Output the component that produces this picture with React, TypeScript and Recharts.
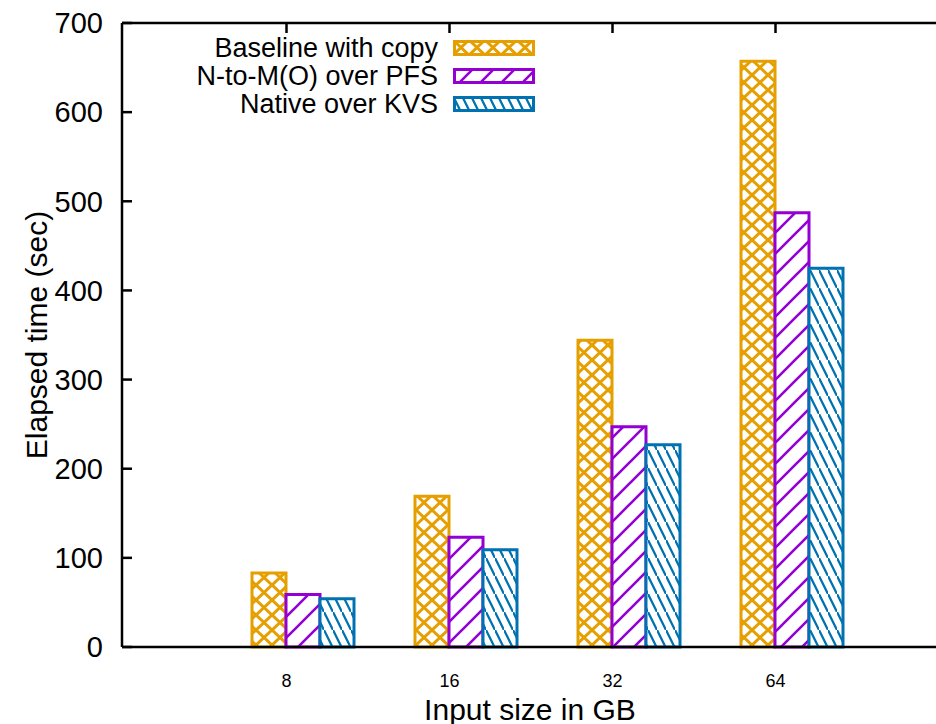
import React from 'react';
import { BarChart, Bar, XAxis, YAxis, Legend, Label } from 'recharts';

// input sizes (GB) and elapsed times (sec)
const sizes = ['8', '16', '32', '64'];
const baselineCopy = [83, 169, 344, 657];
const n2mOverPfs = [59, 123, 247, 487];
const nativeOverKvs = [54, 109, 227, 425];
const yTicks = [0, 100, 200, 300, 400, 500, 600, 700];

const data = sizes.map((size, i) => ({
    size,
    baseline: baselineCopy[i],
    pfs: n2mOverPfs[i],
    kvs: nativeOverKvs[i],
}));

const FONT = '"Liberation Sans", Arial, sans-serif';
const ORANGE = '#E69F00';
const PURPLE = '#9400D3';
const BLUE = '#0072B2';

// series look: outline colour + hatch pattern id
const seriesStyle: Record<string, { color: string; pattern: string; name: string }> = {
    baseline: { color: ORANGE, pattern: 'cross', name: 'Baseline with copy' },
    pfs: { color: PURPLE, pattern: 'slash', name: 'N-to-M(O) over PFS' },
    kvs: { color: BLUE, pattern: 'back', name: 'Native over KVS' },
};

// gnuplot-like fill patterns, prefix lets the legend have its own copies
const Patterns = ({ prefix }: { prefix: string }) => (
    <defs>
        <pattern id={`${prefix}cross`} width={16} height={15} patternUnits="userSpaceOnUse">
            <rect width={16} height={15} fill="#fff" />
            <path d="M0,0 L16,15 M16,0 L0,15" stroke={ORANGE} strokeWidth={3} />
        </pattern>
        <pattern id={`${prefix}slash`} width={21} height={21} patternUnits="userSpaceOnUse">
            <rect width={21} height={21} fill="#fff" />
            <path d="M0,21 L21,0 M-2,2 L2,-2 M19,23 L23,19" stroke={PURPLE} strokeWidth={2.6} />
        </pattern>
        <pattern id={`${prefix}back`} width={9} height={18} patternUnits="userSpaceOnUse">
            <rect width={9} height={18} fill="#fff" />
            <path d="M0,0 L9,18 M-1,-2 L1,2 M8,16 L10,20" stroke={BLUE} strokeWidth={2.3} />
        </pattern>
    </defs>
);

const LegendContent = ({ payload }: any) => (
    <div style={{ fontFamily: FONT, fontSize: 27 }}>
        <svg width={0} height={0} style={{ position: 'absolute' }}>
            <Patterns prefix="lg-" />
        </svg>
        {(payload || []).map((entry: any) => {
            const st = seriesStyle[entry.dataKey];
            return (
                <div key={entry.dataKey} style={{ display: 'flex', alignItems: 'center', height: 28 }}>
                    <span style={{ width: 438, textAlign: 'right', lineHeight: '28px', color: '#000' }}>
                        {entry.value}
                    </span>
                    <svg width={82} height={16} style={{ marginLeft: 15 }}>
                        <rect x={1.5} y={1.5} width={79} height={13} fill={`url(#lg-${st.pattern})`} stroke={st.color} strokeWidth={3} />
                    </svg>
                </div>
            );
        })}
    </div>
);

const YTitle = ({ viewBox }: any) => {
    const cx = viewBox.x + 47;
    const cy = viewBox.y + viewBox.height / 2;
    return (
        <text
            x={cx}
            y={cy}
            transform={`rotate(-90, ${cx}, ${cy})`}
            textAnchor="middle"
            fontSize={30}
            fontFamily={FONT}
            fill="#000"
        >
            Elapsed time (sec)
        </text>
    );
};

const axisLine = { stroke: '#000', strokeWidth: 2.5 };
const tickLine = { stroke: '#000', strokeWidth: 2.5 };

export default function App() {
    return (
        <div style={{ position: 'absolute', left: 0, top: 0, width: 936, height: 724, overflow: 'hidden', background: '#fff' }}>
            <BarChart
                width={940}
                height={724}
                data={data}
                margin={{ top: 22, right: 1, bottom: 0, left: 0 }}
                barGap={0}
                barSize={34}
            >
                <Patterns prefix="" />
                <XAxis xAxisId="bars" dataKey="size" hide height={0} padding={{ left: 99, right: 65 }} />
                {(['baseline', 'pfs', 'kvs'] as const).map((key) => (
                    <Bar
                        key={key}
                        xAxisId="bars"
                        yAxisId="ticks"
                        dataKey={key}
                        name={seriesStyle[key].name}
                        fill={`url(#${seriesStyle[key].pattern})`}
                        stroke={seriesStyle[key].color}
                        strokeWidth={3}
                        isAnimationActive={false}
                    />
                ))}
                <XAxis
                    xAxisId="bottom"
                    dataKey="size"
                    orientation="bottom"
                    height={77}
                    padding={{ left: 83, right: 81 }}
                    axisLine={axisLine}
                    tickLine={false}
                    tickSize={0}
                    tickMargin={27}
                    tick={{ fill: '#000', fontSize: 18, fontFamily: FONT }}
                    interval={0}
                >
                    <Label value="Input size in GB" position="insideBottom" offset={4} fontSize={30} fontFamily={FONT} fill="#000" />
                </XAxis>
                <XAxis
                    xAxisId="top"
                    dataKey="size"
                    orientation="top"
                    height={1}
                    padding={{ left: 83, right: 81 }}
                    axisLine={axisLine}
                    tickLine={tickLine}
                    tickSize={-10}
                    tickFormatter={() => ''}
                    interval={0}
                />
                <YAxis
                    yAxisId="ticks"
                    orientation="left"
                    width={122}
                    domain={[0, 700]}
                    ticks={yTicks}
                    axisLine={axisLine}
                    tickLine={tickLine}
                    tickSize={-10}
                    tickMargin={29}
                    tick={{ fill: '#000', fontSize: 29, fontFamily: FONT }}
                    interval={0}
                >
                    <Label content={<YTitle />} />
                </YAxis>
                <YAxis
                    yAxisId="right"
                    orientation="right"
                    width={1}
                    domain={[0, 700]}
                    ticks={yTicks}
                    axisLine={axisLine}
                    tickLine={tickLine}
                    tickSize={-10}
                    tickFormatter={() => ''}
                    interval={0}
                />
                <Legend
                    layout="horizontal"
                    verticalAlign="middle"
                    align="center"
                    content={<LegendContent />}
                    wrapperStyle={{ left: 0, top: 34, width: 560 }}
                />
            </BarChart>
        </div>
    );
}
